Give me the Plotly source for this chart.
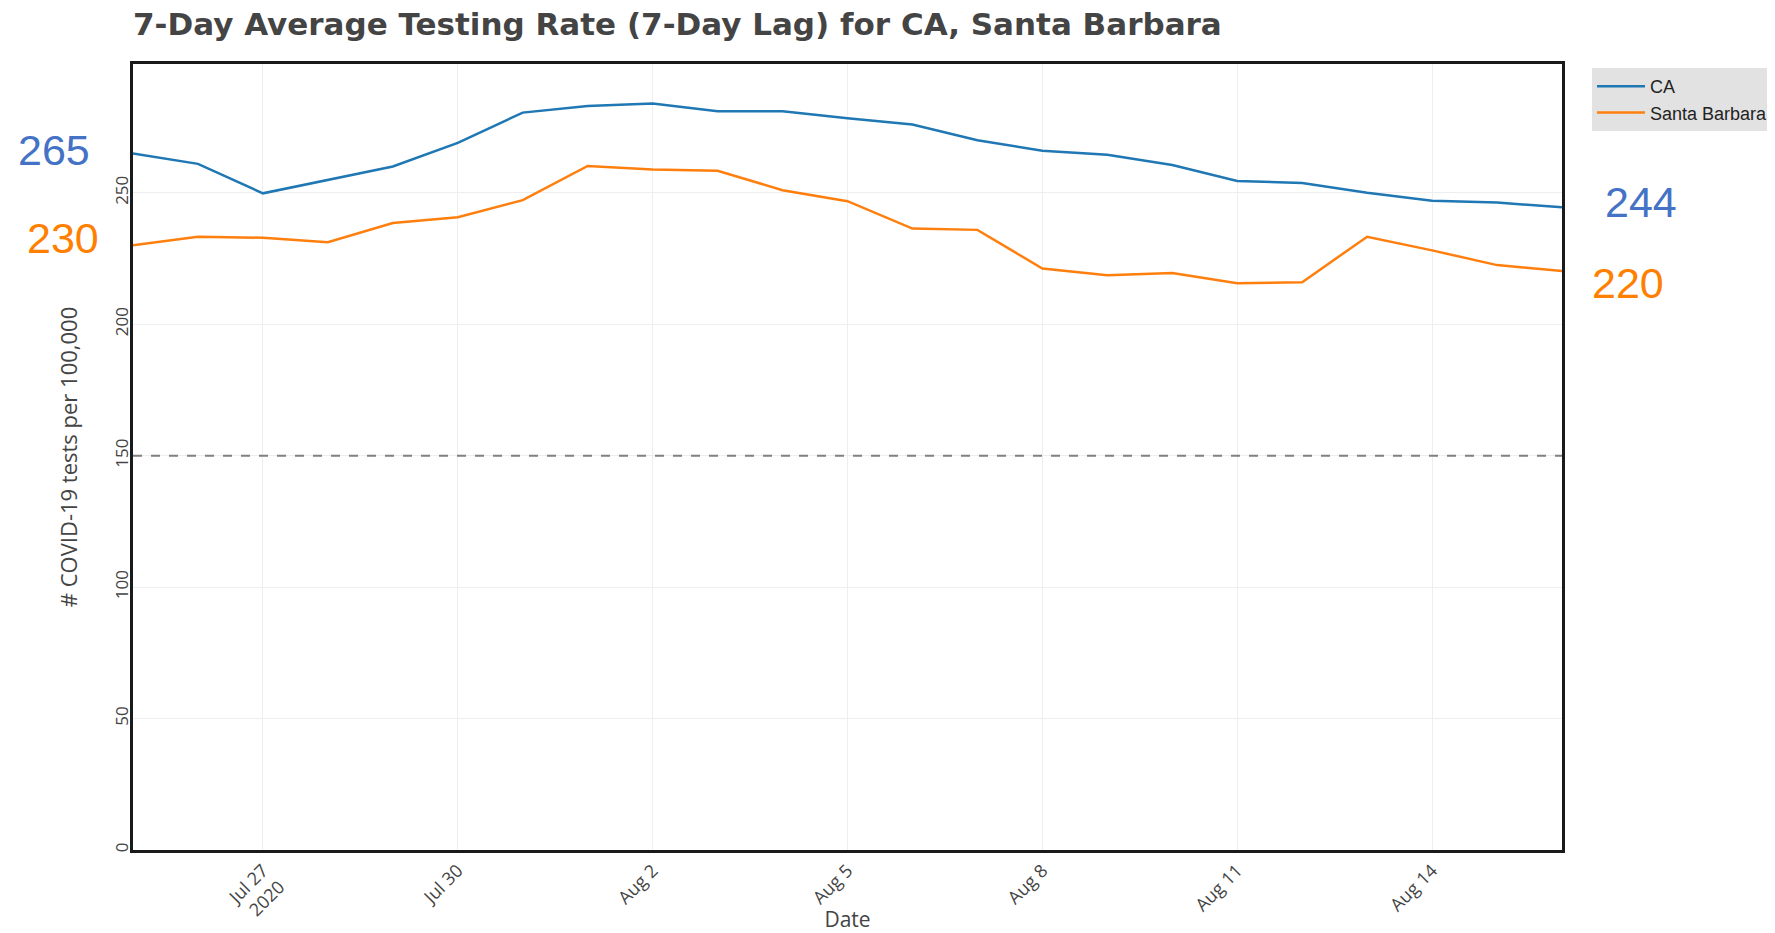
import plotly.graph_objects as go
import pandas as pd

dates = pd.date_range("2020-07-25", "2020-08-16", freq="D").strftime("%Y-%m-%d").tolist()
ca_values = [265, 261, 249.8, 255, 260, 269, 280.5, 283, 284, 281, 281, 278.4, 276, 270,
             266, 264.5, 260.6, 254.5, 253.7, 250, 247, 246.3, 244.5]
sb_values = [230, 233.3, 232.9, 231.2, 238.5, 240.7, 247.2, 260.2, 258.9, 258.4, 251, 246.8,
             236.4, 235.9, 221.2, 218.6, 219.5, 215.6, 216, 233.3, 228.1, 222.5, 220.3]
threshold = 150
title_text = "7-Day Average Testing Rate (7-Day Lag) for CA, Santa Barbara"
annot_labels = [("265", "#4472C4"), ("230", "#FF8000"), ("244", "#4472C4"), ("220", "#FF8000")]

fig = go.Figure()
fig.add_trace(go.Scatter(x=dates, y=ca_values, mode="lines", name="CA",
                         line=dict(color="#1f77b4", width=2.5)))
fig.add_trace(go.Scatter(x=dates, y=sb_values, mode="lines", name="Santa Barbara",
                         line=dict(color="#ff7f0e", width=2.5)))
fig.add_trace(go.Scatter(x=[dates[0], dates[-1]], y=[threshold, threshold], mode="lines",
                         showlegend=False, hoverinfo="skip",
                         line=dict(color="#808080", width=2, dash="dash")))

ann_pos = [(-0.0556, 0.890), (-0.0493, 0.7786), (1.0553, 0.825), (1.0464, 0.7214)]
for (txt, col), (ax, ay) in zip(annot_labels, ann_pos):
    fig.add_annotation(x=ax, y=ay, xref="paper", yref="paper", text=txt, showarrow=False,
                       xanchor="center", yanchor="middle",
                       font=dict(family="Liberation Sans, Arial", size=43, color=col))

fig.update_layout(
    width=1767, height=925,
    paper_bgcolor="white", plot_bgcolor="white",
    margin=dict(l=125, r=213, t=56, b=83, autoexpand=False),
    title=dict(text="<b>" + title_text + "</b>", x=125/1767, xanchor="left", y=0.983, yanchor="middle",
               font=dict(family="DejaVu Sans, Verdana", size=31, color="#444444")),
    legend=dict(x=1.021, y=0.995, xanchor="left", yanchor="top", bgcolor="#e2e2e2",
                itemwidth=48,
                font=dict(family="Liberation Sans, Arial", size=18, color="#222222")),
    xaxis=dict(title=dict(text="Date", font=dict(family="Open Sans", size=21, color="#444444"), standoff=4),
               type="date", range=[dates[0], dates[-1]], tick0="2020-07-27", dtick=3*86400000,
               tickformat="%b %-d\n%Y", tickangle=-45, automargin=False,
               tickfont=dict(family="Open Sans", size=18, color="#444444"),
               showgrid=True, gridcolor="#eeeeee", showline=True, linecolor="#1a1a1a",
               linewidth=3, mirror=True, zeroline=False),
    yaxis=dict(title=dict(text="# COVID-19 tests per 100,000", font=dict(family="Open Sans", size=22, color="#444444"), standoff=27),
               range=[0, 299], dtick=50, tickangle=-90, automargin=False, ticklabelstandoff=-5,
               tickfont=dict(family="Open Sans", size=17, color="#444444"),
               showgrid=True, gridcolor="#eeeeee", showline=True, linecolor="#1a1a1a",
               linewidth=3, mirror=True, zeroline=False),
)
fig.update_xaxes(tickformatstops=[dict(dtickrange=[None, None], value="%b %-d\n%Y")])
fig.write_html("out.html")
